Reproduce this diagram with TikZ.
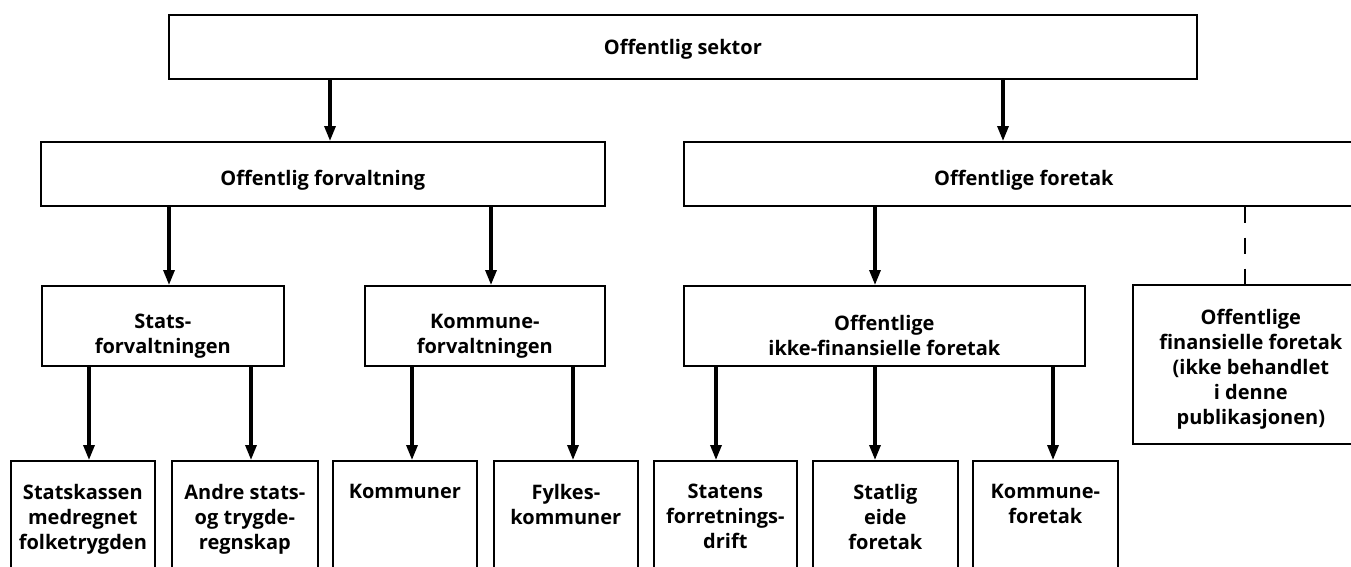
\documentclass[tikz,border=0pt]{standalone}
\usepackage{fontspec}
\setmainfont{Open Sans}
\usetikzlibrary{arrows.meta}
\begin{document}
\begin{tikzpicture}[x=1pt,y=-1pt,
  box/.style={draw=black,line width=1.7pt,fill=white,inner sep=0pt,anchor=north west},
  txt/.style={inner sep=0pt,align=center,font=\lbl},
  arr/.style={line width=3.2pt,-{Triangle[width=11pt,length=15pt]}},
  dsh/.style={line width=1.3pt,dash pattern=on 16pt off 15pt}]
\newcommand\lbl{\bfseries\fontsize{20}{25}\selectfont}
\useasboundingbox (0,0) rectangle (1351,566);
\clip (0,0) rectangle (1351,566);
% top
\node[box,minimum width=1028pt,minimum height=64pt] (top) at (168,14) {};
\node[txt] (topt) at ([yshift=-2pt]top.center) {Offentlig sektor};
% row 2
\node[box,minimum width=564pt,minimum height=64pt] (of) at (40,141) {};
\node[txt] (oft1) at ([yshift=-6pt]of.center) {Offentlig forvaltning};
\node[box,minimum width=680pt,minimum height=64pt] (oft) at (683,141) {};
\node[txt] (oftt) at ([yshift=-6pt]oft.center) {Offentlige foretak};
% row 3
\node[box,minimum width=242pt,minimum height=80pt] (sf) at (41,285) {};
\node[txt] (sft) at ([yshift=-10pt]sf.center) {Stats-\\forvaltningen};
\node[box,minimum width=240pt,minimum height=80pt] (kf) at (364,285) {};
\node[txt] (kft) at ([yshift=-10pt]kf.center) {Kommune-\\forvaltningen};
\node[box,minimum width=401pt,minimum height=80pt] (ik) at (683,285) {};
\node[txt] (ikt) at ([yshift=-10pt]ik.center) {Offentlige\\ikke-finansielle foretak};
\node[box,minimum width=236pt,minimum height=159pt] (fin) at (1132,284) {};
\node[txt,anchor=north] (fint) at ([yshift=-25pt]fin.north) {Offentlige\\finansielle foretak\\(ikke behandlet\\i denne\\publikasjonen)};
% bottom
\node[box,minimum width=144pt,minimum height=140pt] (b1) at (10,460) {};
\node[box,minimum width=146pt,minimum height=140pt] (b2) at (171,460) {};
\node[box,minimum width=144pt,minimum height=140pt] (b3) at (332,460) {};
\node[box,minimum width=144pt,minimum height=140pt] (b4) at (493,460) {};
\node[box,minimum width=143pt,minimum height=140pt] (b5) at (653,460) {};
\node[box,minimum width=145pt,minimum height=140pt] (b6) at (812,460) {};
\node[box,minimum width=145pt,minimum height=140pt] (b7) at (972,460) {};
\tikzset{bt/.style={txt,anchor=north}}
\node[bt] (t1) at ([yshift=-24pt]b1.north) {Statskassen\\medregnet\\folketrygden};
\node[bt] (t2) at ([yshift=-24pt]b2.north) {Andre stats-\\og trygde-\\regnskap};
\node[bt] (t3) at ([yshift=-24pt]b3.north) {Kommuner};
\node[bt] (t4) at ([yshift=-24pt]b4.north) {Fylkes-\\kommuner};
\node[bt] (t5) at ([yshift=-24pt]b5.north) {Statens\\forretnings-\\drift};
\node[bt] (t6) at ([yshift=-24pt]b6.north) {Statlig\\eide\\foretak};
\node[bt] (t7) at ([yshift=-24pt]b7.north) {Kommune-\\foretak};
% arrow x positions
\coordinate (xa) at (330,0);
\coordinate (xb) at (1003,0);
\coordinate (xc) at (169,0);
\coordinate (xd) at (491,0);
\coordinate (xe) at (875,0);
\coordinate (xf) at (1245,0);
\coordinate (x1) at (89,0);
\coordinate (x2) at (251,0);
\coordinate (x3) at (412,0);
\coordinate (x4) at (573,0);
\coordinate (x5) at (716,0);
\coordinate (x6) at (875,0);
\coordinate (x7) at (1053,0);
\draw[arr] (top.south -| xa) -- (of.north -| xa);
\draw[arr] (top.south -| xb) -- (oft.north -| xb);
\draw[arr] (of.south -| xc) -- (sf.north -| xc);
\draw[arr] (of.south -| xd) -- (kf.north -| xd);
\draw[arr] (oft.south -| xe) -- (ik.north -| xe);
\draw[dsh] (oft.south -| xf) -- (fin.north -| xf);
\draw[arr] (sf.south -| x1) -- (b1.north -| x1);
\draw[arr] (sf.south -| x2) -- (b2.north -| x2);
\draw[arr] (kf.south -| x3) -- (b3.north -| x3);
\draw[arr] (kf.south -| x4) -- (b4.north -| x4);
\draw[arr] (ik.south -| x5) -- (b5.north -| x5);
\draw[arr] (ik.south -| x6) -- (b6.north -| x6);
\draw[arr] (ik.south -| x7) -- (b7.north -| x7);
\end{tikzpicture}
\end{document}
